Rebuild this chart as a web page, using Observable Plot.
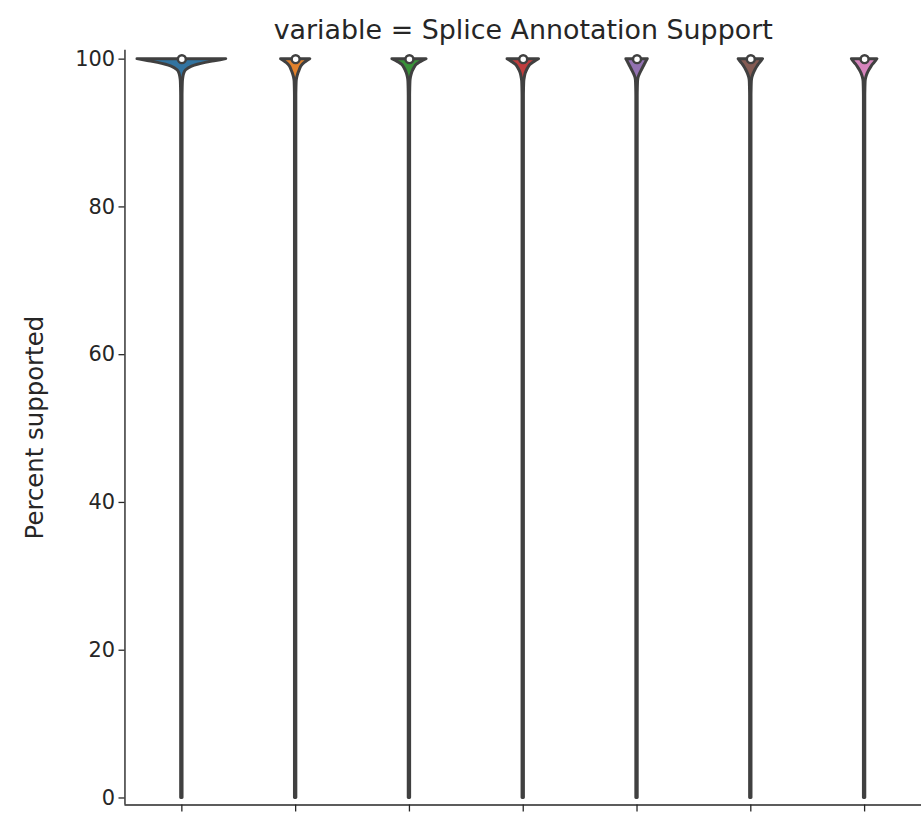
<!DOCTYPE html>
<html>
<head>
<meta charset="utf-8">
<script src="https://cdn.jsdelivr.net/npm/d3@7"></script>
<script src="https://cdn.jsdelivr.net/npm/@observablehq/plot@0.6"></script>
<style>
  html, body { margin: 0; padding: 0; background: #fff; overflow: hidden; }
  #chart { width: 921px; height: 816px; overflow: hidden; }
  #chart svg { font-family: "DejaVu Sans", sans-serif; }
</style>
</head>
<body>
<div id="chart"></div>
<script>
// ---- data ----
const title = "variable = Splice Annotation Support";
const yLabel = "Percent supported";
const categories = ["Sample 1", "Sample 2", "Sample 3", "Sample 4", "Sample 5", "Sample 6", "Sample 7"];
const colors = ["#3274a1", "#e1812c", "#3a923a", "#c03d3e", "#9372b2", "#845b53", "#d684bd"];
const medians = [100, 100, 100, 100, 100, 100, 100];
const yTicks = [0, 20, 40, 60, 80, 100];
const yDomain = [-0.95, 101.2];
// density levels (percent) and violin half-widths (fraction of category slot)
const levels = [0, 90, 95, 96, 97, 97.5, 98, 98.5, 99, 99.25, 99.5, 99.75, 100];
const halfWidth1 = [0.006, 0.006, 0.006, 0.007, 0.009, 0.013, 0.020, 0.038, 0.09, 0.14, 0.21, 0.30, 0.39];
const halfWidth2 = [0.006, 0.006, 0.006, 0.007, 0.009, 0.014, 0.023, 0.036, 0.050, 0.062, 0.080, 0.103, 0.128];
const halfWidth3 = [0.006, 0.006, 0.006, 0.007, 0.009, 0.013, 0.021, 0.034, 0.052, 0.066, 0.090, 0.118, 0.150];
const halfWidth4 = [0.006, 0.006, 0.006, 0.007, 0.009, 0.014, 0.021, 0.034, 0.052, 0.066, 0.088, 0.112, 0.138];
const halfWidth5 = [0.006, 0.006, 0.006, 0.007, 0.009, 0.014, 0.027, 0.043, 0.060, 0.068, 0.077, 0.085, 0.094];
const halfWidth6 = [0.006, 0.006, 0.006, 0.007, 0.009, 0.014, 0.025, 0.040, 0.059, 0.070, 0.083, 0.095, 0.107];
const halfWidth7 = [0.006, 0.006, 0.006, 0.007, 0.009, 0.015, 0.026, 0.042, 0.062, 0.074, 0.088, 0.100, 0.112];
const halfWidths = [halfWidth1, halfWidth2, halfWidth3, halfWidth4, halfWidth5, halfWidth6, halfWidth7];

// ---- build tables ----
const idx = categories.map((_, i) => i);
const violinRows = [];
categories.forEach((c, i) => {
  levels.forEach((v, k) => violinRows.push({cat: c, i, v, hw: halfWidths[i][k]}));
});
const medianRows = categories.map((c, i) => ({cat: c, i, m: medians[i]}));
const xDomain = [-0.5, categories.length - 0.5];

const ink = "#262626";
const edge = "#404040";

const plot = Plot.plot({
  width: 925,
  height: 816,
  marginLeft: 125,
  marginRight: 0,
  marginTop: 50,
  marginBottom: 8,
  style: {color: ink, background: "#fff", fontFamily: "DejaVu Sans, sans-serif", fontSize: "21px", overflow: "visible"},
  x: {domain: xDomain, axis: null},
  y: {domain: yDomain, axis: null},
  color: {type: "ordinal", domain: categories, range: colors},
  marks: [
    Plot.axisY({ticks: yTicks, tickSize: 6, tickPadding: 4, fontSize: 21, strokeWidth: 1.3, label: null}),
    Plot.axisX({ticks: idx, tickSize: 7, tickFormat: () => "", strokeWidth: 1.3, label: null}),
    Plot.ruleX([xDomain[0]], {y1: yDomain[0], y2: yDomain[1], stroke: ink, strokeWidth: 1.4}),
    Plot.ruleY([yDomain[0]], {x1: xDomain[0], x2: xDomain[1], stroke: ink, strokeWidth: 1.4}),
    Plot.areaX(violinRows, {
      y: "v", x1: d => d.i - d.hw, x2: d => d.i + d.hw, z: "cat",
      fill: "cat", stroke: edge, strokeWidth: 3, strokeLinejoin: "round", curve: "monotone-y"
    }),
    Plot.dot(medianRows, {x: "i", y: "m", r: 4, fill: "white", stroke: edge, strokeWidth: 2.5}),
    Plot.text([yLabel], {frameAnchor: "left", dx: -90, rotate: -90, textAnchor: "middle", lineAnchor: "middle", fontSize: 24.5, fill: ink}),
    Plot.text([title], {frameAnchor: "top", dy: -20, lineAnchor: "middle", fontSize: 27, fill: ink})
  ]
});
document.getElementById("chart").appendChild(plot);
</script>
</body>
</html>
